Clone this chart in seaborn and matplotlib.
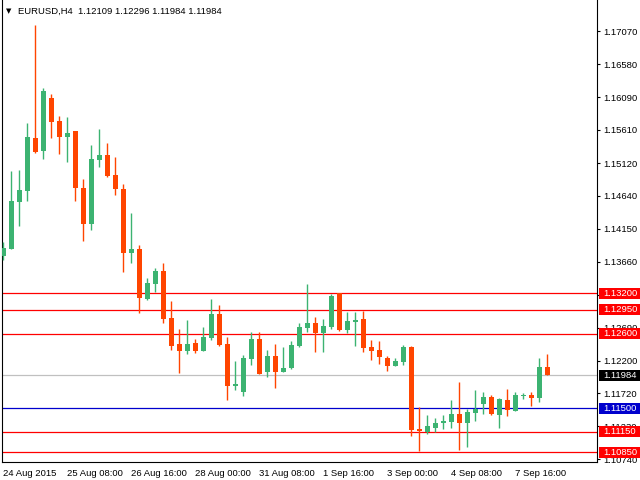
import matplotlib
matplotlib.use("Agg")
import matplotlib.pyplot as plt
import matplotlib.transforms as mtransforms
from matplotlib.patches import Rectangle
import seaborn as sns
import pandas as pd
import numpy as np

# ---------------- data ----------------
opens = [1.13747, 1.13850, 1.14545, 1.14712, 1.15491, 1.15303, 1.16082, 1.15742, 1.15510, 1.15594,
         1.14752, 1.14220, 1.15170, 1.15240, 1.14944, 1.14737, 1.13796, 1.13850, 1.13111, 1.13337,
         1.13525, 1.12831, 1.12446, 1.12347, 1.12461, 1.12347, 1.12539, 1.12890, 1.12446, 1.11825,
         1.11737, 1.12229, 1.12520, 1.12037, 1.12269, 1.12037, 1.12092, 1.12421, 1.12683, 1.12757,
         1.12604, 1.12697, 1.13196, 1.12653, 1.12771, 1.12816, 1.12402, 1.12358, 1.12239, 1.12121,
         1.12180, 1.12402, 1.11190, 1.11146, 1.11205, 1.11279, 1.11293, 1.11412, 1.11279, 1.11426,
         1.11559, 1.11663, 1.11397, 1.11619, 1.11456, 1.11678, 1.11692, 1.11648, 1.12109]
highs = [1.13954, 1.15003, 1.15018, 1.15713, 1.17161, 1.16230, 1.16141, 1.15816, 1.15801, 1.15594,
         1.14885, 1.15387, 1.15624, 1.15417, 1.15210, 1.14807, 1.14382, 1.13909, 1.13417, 1.13570,
         1.13643, 1.13082, 1.12668, 1.12801, 1.12520, 1.12697, 1.13111, 1.13023, 1.12550, 1.12195,
         1.12284, 1.12624, 1.12624, 1.12358, 1.12446, 1.12402, 1.12491, 1.12757, 1.13333, 1.12845,
         1.12816, 1.13185, 1.13200, 1.12919, 1.12919, 1.12934, 1.12505, 1.12491, 1.12269, 1.12239,
         1.12431, 1.12417, 1.11515, 1.11397, 1.11353, 1.11397, 1.11619, 1.11885, 1.11486, 1.11766,
         1.11737, 1.11692, 1.11648, 1.11781, 1.11737, 1.11722, 1.11737, 1.12239, 1.12296]
lows = [1.13688, 1.13850, 1.14190, 1.14564, 1.15274, 1.15185, 1.15495, 1.15259, 1.15141, 1.14564,
        1.13973, 1.14131, 1.15067, 1.14915, 1.14653, 1.13515, 1.13648, 1.12909, 1.13097, 1.13215,
        1.12761, 1.12358, 1.12022, 1.12298, 1.12318, 1.12347, 1.12505, 1.12417, 1.11619, 1.11766,
        1.11678, 1.12136, 1.12003, 1.11963, 1.11796, 1.12037, 1.12077, 1.12402, 1.12624, 1.12328,
        1.12328, 1.12668, 1.12638, 1.12609, 1.12417, 1.12328, 1.12210, 1.12151, 1.12047, 1.12121,
        1.12136, 1.11086, 1.10865, 1.11116, 1.11146, 1.11190, 1.11205, 1.10880, 1.10924, 1.11308,
        1.11412, 1.11397, 1.11205, 1.11382, 1.11456, 1.11633, 1.11530, 1.11589, 1.11984]
closes = [1.13865, 1.14560, 1.14722, 1.15506, 1.15288, 1.16186, 1.15732, 1.15510, 1.15565, 1.14756,
          1.14220, 1.15181, 1.15240, 1.14929, 1.14737, 1.13796, 1.13850, 1.13131, 1.13348, 1.13525,
          1.12820, 1.12421, 1.12347, 1.12446, 1.12347, 1.12550, 1.12890, 1.12431, 1.11830, 1.11855,
          1.12239, 1.12520, 1.12003, 1.12269, 1.12037, 1.12092, 1.12431, 1.12697, 1.12757, 1.12604,
          1.12712, 1.13156, 1.12653, 1.12786, 1.12801, 1.12387, 1.12343, 1.12254, 1.12121, 1.12195,
          1.12402, 1.11175, 1.11160, 1.11234, 1.11279, 1.11308, 1.11412, 1.11279, 1.11441, 1.11486,
          1.11663, 1.11412, 1.11633, 1.11471, 1.11692, 1.11692, 1.11648, 1.12109, 1.11984]

xtick_labels = ["24 Aug 2015", "25 Aug 08:00", "26 Aug 16:00", "28 Aug 00:00", "31 Aug 08:00",
                "1 Sep 16:00", "3 Sep 00:00", "4 Sep 08:00", "7 Sep 16:00"]
ytick_values = [1.17070, 1.16580, 1.16090, 1.15610, 1.15120, 1.14640, 1.14150, 1.13660,
                1.13170, 1.12690, 1.12200, 1.11720, 1.11230, 1.10740]
level_prices = [1.13200, 1.12950, 1.12600, 1.11500, 1.11150, 1.10850]
level_colors = ["#FF0000", "#FF0000", "#FF0000", "#0000CD", "#FF0000", "#FF0000"]
bid_price = 1.11984
title_text = "EURUSD,H4  1.12109 1.12296 1.11984 1.11984"

# ---------------- style ----------------
sns.set_style("white")
plt.rcParams["font.family"] = ["Liberation Sans", "DejaVu Sans"]
plt.rcParams["font.size"] = 6.8

df = pd.DataFrame({"open": opens, "high": highs, "low": lows, "close": closes})
df["idx"] = np.arange(len(df))
up_color = "#3CB371"
down_color = "#FF4500"
df["color"] = np.where(df["close"] >= df["open"], up_color, down_color)

fig = plt.figure(figsize=(6.4, 4.8), dpi=100)
W, H = 640, 480
ax_l, ax_r, ax_b, ax_t = 2.3, 596.7, 461.7, 0.0
ax = fig.add_axes([ax_l / W, (H - ax_b) / H, (ax_r - ax_l) / W, (ax_b - ax_t) / H])

ymax, ymin = 1.17531, 1.10707
ax.set_ylim(ymin, ymax)
ax.set_xlim(-0.125, 74.175)
ppx = (ymax - ymin) / (ax_b - ax_t)  # price per pixel

# wicks
ax.vlines(df["idx"], df["low"], df["high"], colors=df["color"], linewidth=1.0, zorder=3)
# bodies
body_h = (df["close"] - df["open"]).abs().clip(lower=ppx * 1.2)
body_b = df[["open", "close"]].min(axis=1)
ax.bar(df["idx"], body_h, bottom=body_b, width=0.625, color=df["color"], linewidth=0, zorder=3)

# level lines
for p, c in zip(level_prices, level_colors):
    ax.axhline(p, color=c, linewidth=0.9, zorder=2)
ax.axhline(bid_price, color="#C0C0C0", linewidth=0.9, zorder=2)

# axes styling
for s in ["left", "bottom", "right"]:
    ax.spines[s].set_visible(True)
    ax.spines[s].set_color("black")
    ax.spines[s].set_linewidth(0.8)
ax.spines["top"].set_visible(False)
ax.grid(False)

ax.set_xticks(np.arange(0, 65, 8))
ax.set_xticklabels(xtick_labels, ha="left")
ax.yaxis.tick_right()
ax.set_yticks(ytick_values)
ax.set_yticklabels([f"{v:.5f}" for v in ytick_values])
ax.tick_params(axis="x", direction="out", length=3, width=0.8, pad=2, labelsize=6.8, colors="black")
ax.tick_params(axis="y", direction="out", length=2.2, width=0.8, pad=2.6, labelsize=6.8, colors="black",
               left=False, right=True)

# price labels on right
trans = mtransforms.blended_transform_factory(fig.transFigure, ax.transData)
def price_label(p, bg):
    rect = Rectangle((599 / W, p - 5.5 * ppx), 41 / W, 11 * ppx, transform=trans,
                     facecolor=bg, edgecolor="none", clip_on=False, zorder=10)
    ax.add_patch(rect)
    ax.text(603 / W, p, f"{p:.5f}", transform=trans, color="white", ha="left", va="center",
            fontsize=6.8, clip_on=False, zorder=11)

for p, c in zip(level_prices, level_colors):
    price_label(p, c)
price_label(bid_price, "black")

# title
fig.text(6 / W, 1 - 11 / H, "\u25BC", fontsize=5, family="DejaVu Sans", ha="left", va="center", color="black")
fig.text(18 / W, 1 - 11 / H, title_text, fontsize=6.8, ha="left", va="center", color="black")

fig.savefig("out.png", dpi=100)
